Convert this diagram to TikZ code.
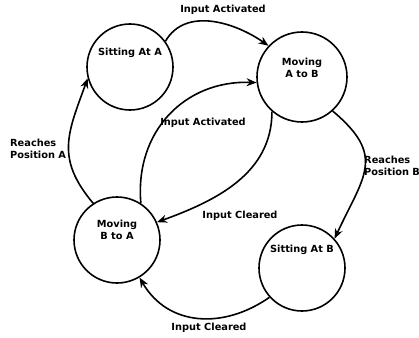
\documentclass[tikz,border=0pt]{standalone}
\usepackage{fontspec}
\setmainfont{DejaVu Sans}
\usetikzlibrary{arrows.meta}
\begin{document}
\begin{tikzpicture}[x=1pt,y=-1pt,
  state/.style={circle,draw,line width=1.6pt,minimum size=86pt,inner sep=0pt},
  trans/.style={line width=1.6pt,-{Stealth[length=10pt,width=8pt]}},
  lab/.style={font=\fontsize{9.8}{12.5}\selectfont\bfseries,align=center,inner sep=0pt},
  lbl/.style={font=\fontsize{9.8}{12.5}\selectfont\bfseries,align=left,inner sep=0pt}]
\fill[white] (0,0) rectangle (419,337);
\useasboundingbox (0,0) rectangle (419,337);
\node[state,label={[lab,yshift=14pt]center:Sitting At A}] (sa) at (130,67) {};
\node[state,minimum size=90pt,label={[lab,yshift=9pt]center:Moving\\A to B}] (mab) at (302,77) {};
\node[state,label={[lab,yshift=10pt]center:Moving\\B to A}] (mba) at (117,240) {};
\node[state,label={[lab,yshift=18pt]center:Sitting At B}] (sb) at (302,268) {};
\node[lab] (l1) at (223,10) {Input Activated};
\node[lab] (l2) at (203,123) {Input Activated};
\node[lab] (l3) at (240,216) {Input Cleared};
\node[lbl,anchor=west] (l4) at (364,166) {Reaches\\Position B};
\node[lab] (l5) at (209,328) {Input Cleared};
\node[lbl,anchor=west] (l6) at (10,149) {Reaches\\Position A};
\draw[trans] (sa.36) to[out=60,in=145] (mab.137);
\draw[trans] (mba.57) to[out=95,in=178,looseness=1.1] (mab.187);
\draw[trans] (mab.229) to[out=270,in=20,looseness=1] (mba.24);
\draw[trans] (mab.312) to[out=-40,in=65,looseness=1.4] (sb.42);
\draw[trans] (sb.222) to[out=215,in=300,looseness=1.1] (mba.301);
\draw[trans] (mba.123) to[out=130,in=250,looseness=1.2] (sa.195);
\end{tikzpicture}
\end{document}
